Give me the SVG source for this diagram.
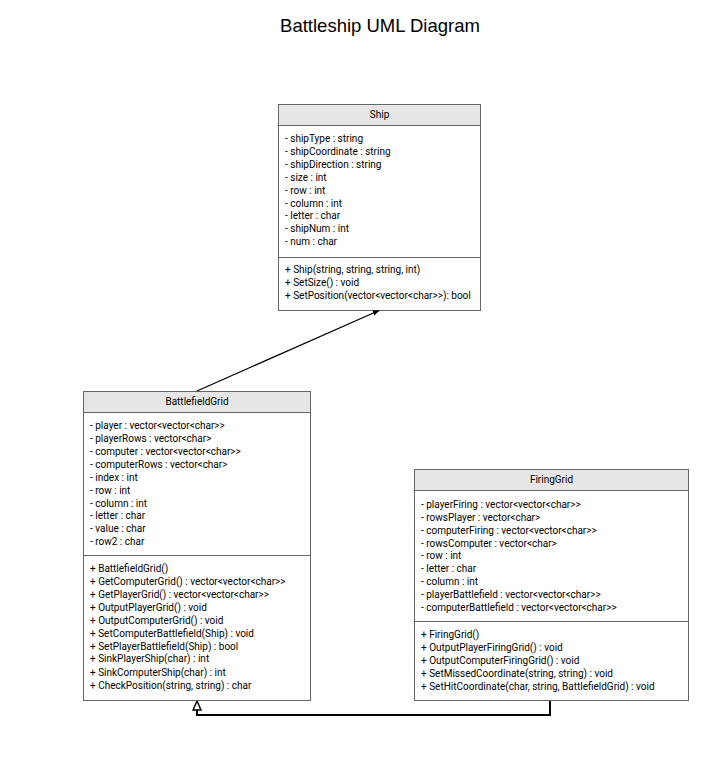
<svg xmlns="http://www.w3.org/2000/svg" width="720" height="768" viewBox="0 0 720 768">
<style>
.box{fill:#ffffff;stroke:#666666;stroke-width:1}
.hdr{fill:#e6e6e6;stroke:#666666;stroke-width:1}
.sep{stroke:#666666;stroke-width:1}
.t{font-family:Roboto,"Liberation Sans",sans-serif;font-size:10px;fill:#000000}
.h{font-family:Roboto,"Liberation Sans",sans-serif;font-size:10px;fill:#000000;text-anchor:middle}
.title{font-family:"Liberation Sans",Arial,sans-serif;font-size:18.5px;fill:#000000;text-anchor:middle}
</style>
<defs>
<marker id="filled" viewBox="0 0 10 10" refX="9" refY="5" markerWidth="7" markerHeight="7" orient="auto" markerUnits="userSpaceOnUse">
<path d="M0,1 L10,5 L0,9 Z" fill="#000000"/>
</marker>
<marker id="hollow" viewBox="0 0 10 10" refX="10" refY="5" markerWidth="10" markerHeight="10" orient="auto" markerUnits="userSpaceOnUse">
<path d="M1,1 L10,5 L1,9 Z" fill="#ffffff" stroke="#000000" stroke-width="1.4"/>
</marker>
</defs>
<rect x="0" y="0" width="720" height="768" fill="#ffffff"/>
<text class="title" x="380" y="32">Battleship UML Diagram</text>

<g id="Ship">
<rect class="box" x="278.5" y="104.5" width="202" height="206"/>
<rect class="hdr" x="278.5" y="104.5" width="202" height="21"/>
<text class="h" x="379.5" y="118">Ship</text>
<text class="t" x="285" y="142">- shipType : string</text>
<text class="t" x="285" y="155">- shipCoordinate : string</text>
<text class="t" x="285" y="168">- shipDirection : string</text>
<text class="t" x="285" y="180.5">- size : int</text>
<text class="t" x="285" y="193.5">- row : int</text>
<text class="t" x="285" y="206.5">- column : int</text>
<text class="t" x="285" y="219">- letter : char</text>
<text class="t" x="285" y="232">- shipNum : int</text>
<text class="t" x="285" y="245">- num : char</text>
<line class="sep" x1="278.5" y1="257.5" x2="480.5" y2="257.5"/>
<text class="t" x="285" y="272.5">+ Ship(string, string, string, int)</text>
<text class="t" x="285" y="285.5">+ SetSize() : void</text>
<text class="t" x="285" y="298.5">+ SetPosition(vector&lt;vector&lt;char&gt;&gt;): bool</text>
</g>

<g id="BattlefieldGrid">
<rect class="box" x="83.5" y="391.5" width="227" height="309"/>
<rect class="hdr" x="83.5" y="391.5" width="227" height="21"/>
<text class="h" x="197" y="405">BattlefieldGrid</text>
<text class="t" x="90" y="428.5">- player : vector&lt;vector&lt;char&gt;&gt;</text>
<text class="t" x="90" y="441.5">- playerRows : vector&lt;char&gt;</text>
<text class="t" x="90" y="454.5">- computer : vector&lt;vector&lt;char&gt;&gt;</text>
<text class="t" x="90" y="467.5">- computerRows : vector&lt;char&gt;</text>
<text class="t" x="90" y="480.5">- index : int</text>
<text class="t" x="90" y="493.5">- row : int</text>
<text class="t" x="90" y="506.5">- column : int</text>
<text class="t" x="90" y="519">- letter : char</text>
<text class="t" x="90" y="532">- value : char</text>
<text class="t" x="90" y="545">- row2 : char</text>
<line class="sep" x1="83.5" y1="555.5" x2="310.5" y2="555.5"/>
<text class="t" x="90" y="571.5">+ BattlefieldGrid()</text>
<text class="t" x="90" y="584.5">+ GetComputerGrid() : vector&lt;vector&lt;char&gt;&gt;</text>
<text class="t" x="90" y="597.5">+ GetPlayerGrid() : vector&lt;vector&lt;char&gt;&gt;</text>
<text class="t" x="90" y="610.5">+ OutputPlayerGrid() : void</text>
<text class="t" x="90" y="623.5">+ OutputComputerGrid() : void</text>
<text class="t" x="90" y="636.5">+ SetComputerBattlefield(Ship) : void</text>
<text class="t" x="90" y="649.5">+ SetPlayerBattlefield(Ship) : bool</text>
<text class="t" x="90" y="662">+ SinkPlayerShip(char) : int</text>
<text class="t" x="90" y="675.5">+ SinkComputerShip(char) : int</text>
<text class="t" x="90" y="689">+ CheckPosition(string, string) : char</text>
</g>

<g id="FiringGrid">
<rect class="box" x="414.5" y="469.5" width="274" height="231"/>
<rect class="hdr" x="414.5" y="469.5" width="274" height="21"/>
<text class="h" x="551.5" y="483">FiringGrid</text>
<text class="t" x="421" y="507.5">- playerFiring : vector&lt;vector&lt;char&gt;&gt;</text>
<text class="t" x="421" y="520.5">- rowsPlayer : vector&lt;char&gt;</text>
<text class="t" x="421" y="533.5">- computerFiring : vector&lt;vector&lt;char&gt;&gt;</text>
<text class="t" x="421" y="546.5">- rowsComputer : vector&lt;char&gt;</text>
<text class="t" x="421" y="559">- row : int</text>
<text class="t" x="421" y="572">- letter : char</text>
<text class="t" x="421" y="585">- column : int</text>
<text class="t" x="421" y="597.5">- playerBattlefield : vector&lt;vector&lt;char&gt;&gt;</text>
<text class="t" x="421" y="610.5">- computerBattlefield : vector&lt;vector&lt;char&gt;&gt;</text>
<line class="sep" x1="414.5" y1="621.5" x2="688.5" y2="621.5"/>
<text class="t" x="421" y="637.5">+ FiringGrid()</text>
<text class="t" x="421" y="650.5">+ OutputPlayerFiringGrid() : void</text>
<text class="t" x="421" y="663.5">+ OutputComputerFiringGrid() : void</text>
<text class="t" x="421" y="676.5">+ SetMissedCoordinate(string, string) : void</text>
<text class="t" x="421" y="689.5">+ SetHitCoordinate(char, string, BattlefieldGrid) : void</text>
</g>

<g id="connectors">
<line x1="197" y1="391" x2="379" y2="310.5" stroke="#000000" stroke-width="1.3" marker-end="url(#filled)"/>
<polyline points="550,701 550,715 197,715 197,701" fill="none" stroke="#000000" stroke-width="2" marker-end="url(#hollow)"/>
</g>
</svg>
